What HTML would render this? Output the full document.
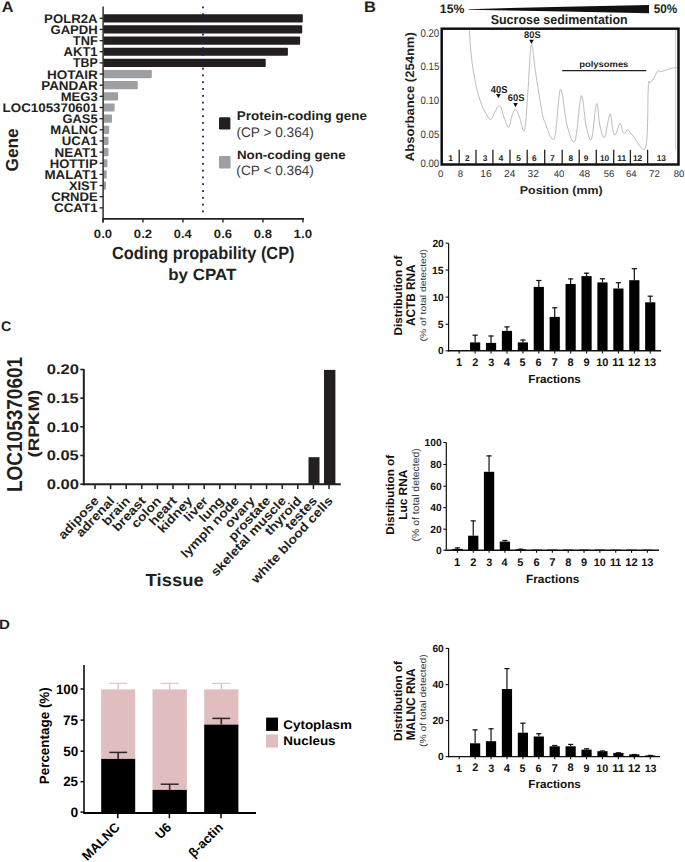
<!DOCTYPE html>
<html><head><meta charset="utf-8"><style>
html,body{margin:0;padding:0;background:#fff;}
svg{display:block;font-family:"Liberation Sans",sans-serif;text-rendering:geometricPrecision;}
</style></head><body>
<svg width="685" height="862" viewBox="0 0 685 862">
<rect width="685" height="862" fill="#fff"/>
<text id="t0" x="1.75" y="11.96" font-size="15.31" font-weight="bold" fill="#231f20" textLength="11.76" lengthAdjust="spacingAndGlyphs">A</text>
<text id="t1" x="44.14" y="22.62" font-size="12.54" font-weight="bold" fill="#231f20" textLength="53.50" lengthAdjust="spacingAndGlyphs">POLR2A</text>
<line x1="99.60" y1="18.30" x2="103.00" y2="18.30" stroke="#231f20" stroke-width="1.3"/>
<rect x="103.50" y="14.20" width="199.30" height="8.20" fill="#231f20" rx="0.8"/>
<text id="t2" x="50.48" y="33.72" font-size="12.45" font-weight="bold" fill="#231f20" textLength="47.28" lengthAdjust="spacingAndGlyphs">GAPDH</text>
<line x1="99.60" y1="29.45" x2="103.00" y2="29.45" stroke="#231f20" stroke-width="1.3"/>
<rect x="103.50" y="25.35" width="198.70" height="8.20" fill="#231f20" rx="0.8"/>
<text id="t3" x="72.87" y="45.05" font-size="12.90" font-weight="bold" fill="#231f20" textLength="24.86" lengthAdjust="spacingAndGlyphs">TNF</text>
<line x1="99.60" y1="40.60" x2="103.00" y2="40.60" stroke="#231f20" stroke-width="1.3"/>
<rect x="103.50" y="36.50" width="196.60" height="8.20" fill="#231f20" rx="0.8"/>
<text id="t4" x="63.57" y="56.20" font-size="12.90" font-weight="bold" fill="#231f20" textLength="34.07" lengthAdjust="spacingAndGlyphs">AKT1</text>
<line x1="99.60" y1="51.75" x2="103.00" y2="51.75" stroke="#231f20" stroke-width="1.3"/>
<rect x="103.50" y="47.65" width="184.40" height="8.20" fill="#231f20" rx="0.8"/>
<text id="t5" x="72.98" y="67.35" font-size="12.90" font-weight="bold" fill="#231f20" textLength="24.69" lengthAdjust="spacingAndGlyphs">TBP</text>
<line x1="99.60" y1="62.90" x2="103.00" y2="62.90" stroke="#231f20" stroke-width="1.3"/>
<rect x="103.50" y="58.80" width="162.20" height="8.20" fill="#231f20" rx="0.8"/>
<text id="t6" x="46.92" y="78.91" font-size="12.45" font-weight="bold" fill="#231f20" textLength="50.84" lengthAdjust="spacingAndGlyphs">HOTAIR</text>
<line x1="99.60" y1="74.05" x2="103.00" y2="74.05" stroke="#231f20" stroke-width="1.3"/>
<rect x="103.50" y="69.95" width="48.30" height="8.20" fill="#9d9fa2" rx="0.8"/>
<text id="t7" x="41.23" y="89.65" font-size="12.90" font-weight="bold" fill="#231f20" textLength="56.39" lengthAdjust="spacingAndGlyphs">PANDAR</text>
<line x1="99.60" y1="85.20" x2="103.00" y2="85.20" stroke="#231f20" stroke-width="1.3"/>
<rect x="103.50" y="81.10" width="34.20" height="8.20" fill="#9d9fa2" rx="0.8"/>
<text id="t8" x="60.65" y="100.67" font-size="12.54" font-weight="bold" fill="#231f20" textLength="37.10" lengthAdjust="spacingAndGlyphs">MEG3</text>
<line x1="99.60" y1="96.35" x2="103.00" y2="96.35" stroke="#231f20" stroke-width="1.3"/>
<rect x="103.50" y="92.25" width="14.50" height="8.20" fill="#9d9fa2" rx="0.8"/>
<text id="t9" x="2.63" y="111.82" font-size="12.54" font-weight="bold" fill="#231f20" textLength="95.02" lengthAdjust="spacingAndGlyphs">LOC105370601</text>
<line x1="99.60" y1="107.50" x2="103.00" y2="107.50" stroke="#231f20" stroke-width="1.3"/>
<rect x="103.50" y="103.40" width="11.10" height="8.20" fill="#9d9fa2" rx="0.8"/>
<text id="t10" x="62.48" y="122.97" font-size="12.54" font-weight="bold" fill="#231f20" textLength="35.18" lengthAdjust="spacingAndGlyphs">GAS5</text>
<line x1="99.60" y1="118.65" x2="103.00" y2="118.65" stroke="#231f20" stroke-width="1.3"/>
<rect x="103.50" y="114.55" width="8.50" height="8.20" fill="#9d9fa2" rx="0.8"/>
<text id="t11" x="50.25" y="134.12" font-size="12.54" font-weight="bold" fill="#231f20" textLength="47.39" lengthAdjust="spacingAndGlyphs">MALNC</text>
<line x1="99.60" y1="129.80" x2="103.00" y2="129.80" stroke="#231f20" stroke-width="1.3"/>
<rect x="103.50" y="125.70" width="5.70" height="8.20" fill="#9d9fa2" rx="0.8"/>
<text id="t12" x="61.81" y="145.27" font-size="12.54" font-weight="bold" fill="#231f20" textLength="35.86" lengthAdjust="spacingAndGlyphs">UCA1</text>
<line x1="99.60" y1="140.95" x2="103.00" y2="140.95" stroke="#231f20" stroke-width="1.3"/>
<rect x="103.50" y="136.85" width="5.00" height="8.20" fill="#9d9fa2" rx="0.8"/>
<text id="t13" x="54.53" y="156.55" font-size="12.90" font-weight="bold" fill="#231f20" textLength="43.10" lengthAdjust="spacingAndGlyphs">NEAT1</text>
<line x1="99.60" y1="152.10" x2="103.00" y2="152.10" stroke="#231f20" stroke-width="1.3"/>
<rect x="103.50" y="148.00" width="5.00" height="8.20" fill="#9d9fa2" rx="0.8"/>
<text id="t14" x="49.75" y="167.57" font-size="12.54" font-weight="bold" fill="#231f20" textLength="47.96" lengthAdjust="spacingAndGlyphs">HOTTIP</text>
<line x1="99.60" y1="163.25" x2="103.00" y2="163.25" stroke="#231f20" stroke-width="1.3"/>
<rect x="103.50" y="159.15" width="3.90" height="8.20" fill="#9d9fa2" rx="0.8"/>
<text id="t15" x="44.43" y="178.85" font-size="12.90" font-weight="bold" fill="#231f20" textLength="53.22" lengthAdjust="spacingAndGlyphs">MALAT1</text>
<line x1="99.60" y1="174.40" x2="103.00" y2="174.40" stroke="#231f20" stroke-width="1.3"/>
<rect x="103.50" y="170.30" width="3.20" height="8.20" fill="#9d9fa2" rx="0.8"/>
<text id="t16" x="68.97" y="189.87" font-size="12.54" font-weight="bold" fill="#231f20" textLength="28.49" lengthAdjust="spacingAndGlyphs">XIST</text>
<line x1="99.60" y1="185.55" x2="103.00" y2="185.55" stroke="#231f20" stroke-width="1.3"/>
<rect x="103.50" y="181.45" width="2.50" height="8.20" fill="#9d9fa2" rx="0.8"/>
<text id="t17" x="51.18" y="201.02" font-size="12.54" font-weight="bold" fill="#231f20" textLength="46.59" lengthAdjust="spacingAndGlyphs">CRNDE</text>
<line x1="99.60" y1="196.70" x2="103.00" y2="196.70" stroke="#231f20" stroke-width="1.3"/>
<text id="t18" x="54.07" y="212.17" font-size="12.54" font-weight="bold" fill="#231f20" textLength="43.56" lengthAdjust="spacingAndGlyphs">CCAT1</text>
<line x1="99.60" y1="207.85" x2="103.00" y2="207.85" stroke="#231f20" stroke-width="1.3"/>
<rect x="202.10" y="6.50" width="1.80" height="1.80" fill="#1b1b6b"/>
<rect x="202.10" y="13.30" width="1.80" height="1.80" fill="#1b1b6b"/>
<rect x="202.10" y="20.10" width="1.80" height="1.80" fill="#1b1b6b"/>
<rect x="202.10" y="26.90" width="1.80" height="1.80" fill="#1b1b6b"/>
<rect x="202.10" y="33.70" width="1.80" height="1.80" fill="#1b1b6b"/>
<rect x="202.10" y="40.50" width="1.80" height="1.80" fill="#1b1b6b"/>
<rect x="202.10" y="47.30" width="1.80" height="1.80" fill="#1b1b6b"/>
<rect x="202.10" y="54.10" width="1.80" height="1.80" fill="#1b1b6b"/>
<rect x="202.10" y="60.90" width="1.80" height="1.80" fill="#1b1b6b"/>
<rect x="202.10" y="67.70" width="1.80" height="1.80" fill="#1b1b6b"/>
<rect x="202.10" y="74.50" width="1.80" height="1.80" fill="#1b1b6b"/>
<rect x="202.10" y="81.30" width="1.80" height="1.80" fill="#1b1b6b"/>
<rect x="202.10" y="88.10" width="1.80" height="1.80" fill="#1b1b6b"/>
<rect x="202.10" y="94.90" width="1.80" height="1.80" fill="#1b1b6b"/>
<rect x="202.10" y="101.70" width="1.80" height="1.80" fill="#1b1b6b"/>
<rect x="202.10" y="108.50" width="1.80" height="1.80" fill="#1b1b6b"/>
<rect x="202.10" y="115.30" width="1.80" height="1.80" fill="#1b1b6b"/>
<rect x="202.10" y="122.10" width="1.80" height="1.80" fill="#1b1b6b"/>
<rect x="202.10" y="128.90" width="1.80" height="1.80" fill="#1b1b6b"/>
<rect x="202.10" y="135.70" width="1.80" height="1.80" fill="#1b1b6b"/>
<rect x="202.10" y="142.50" width="1.80" height="1.80" fill="#1b1b6b"/>
<rect x="202.10" y="149.30" width="1.80" height="1.80" fill="#1b1b6b"/>
<rect x="202.10" y="156.10" width="1.80" height="1.80" fill="#1b1b6b"/>
<rect x="202.10" y="162.90" width="1.80" height="1.80" fill="#1b1b6b"/>
<rect x="202.10" y="169.70" width="1.80" height="1.80" fill="#1b1b6b"/>
<rect x="202.10" y="176.50" width="1.80" height="1.80" fill="#1b1b6b"/>
<rect x="202.10" y="183.30" width="1.80" height="1.80" fill="#1b1b6b"/>
<rect x="202.10" y="190.10" width="1.80" height="1.80" fill="#1b1b6b"/>
<rect x="202.10" y="196.90" width="1.80" height="1.80" fill="#1b1b6b"/>
<rect x="202.10" y="203.70" width="1.80" height="1.80" fill="#1b1b6b"/>
<rect x="202.10" y="210.50" width="1.80" height="1.80" fill="#1b1b6b"/>
<line x1="103.10" y1="6.50" x2="103.10" y2="222.60" stroke="#231f20" stroke-width="1.4"/>
<line x1="102.40" y1="218.90" x2="304.00" y2="218.90" stroke="#231f20" stroke-width="1.8"/>
<line x1="103.00" y1="218.90" x2="103.00" y2="222.60" stroke="#231f20" stroke-width="1.3"/>
<text id="t19" x="93.87" y="237.68" font-size="12.11" font-weight="bold" fill="#231f20" textLength="18.25" lengthAdjust="spacingAndGlyphs">0.0</text>
<line x1="143.00" y1="218.90" x2="143.00" y2="222.60" stroke="#231f20" stroke-width="1.3"/>
<text id="t20" x="133.87" y="237.68" font-size="12.11" font-weight="bold" fill="#231f20" textLength="18.25" lengthAdjust="spacingAndGlyphs">0.2</text>
<line x1="183.00" y1="218.90" x2="183.00" y2="222.60" stroke="#231f20" stroke-width="1.3"/>
<text id="t21" x="173.89" y="237.68" font-size="12.11" font-weight="bold" fill="#231f20" textLength="17.78" lengthAdjust="spacingAndGlyphs">0.4</text>
<line x1="223.00" y1="218.90" x2="223.00" y2="222.60" stroke="#231f20" stroke-width="1.3"/>
<text id="t22" x="213.88" y="237.68" font-size="12.11" font-weight="bold" fill="#231f20" textLength="18.18" lengthAdjust="spacingAndGlyphs">0.6</text>
<line x1="263.00" y1="218.90" x2="263.00" y2="222.60" stroke="#231f20" stroke-width="1.3"/>
<text id="t23" x="253.88" y="237.68" font-size="12.11" font-weight="bold" fill="#231f20" textLength="18.11" lengthAdjust="spacingAndGlyphs">0.8</text>
<line x1="303.00" y1="218.90" x2="303.00" y2="222.60" stroke="#231f20" stroke-width="1.3"/>
<text id="t24" x="293.60" y="237.68" font-size="12.11" font-weight="bold" fill="#231f20" textLength="18.54" lengthAdjust="spacingAndGlyphs">1.0</text>
<text id="t25" x="111.95" y="259.02" font-size="17.67" font-weight="bold" fill="#231f20" textLength="182.56" lengthAdjust="spacingAndGlyphs">Coding propability (CP)</text>
<text id="t26" x="168.30" y="279.96" font-size="16.21" font-weight="bold" fill="#231f20" textLength="67.93" lengthAdjust="spacingAndGlyphs">by CPAT</text>
<text id="t27" transform="translate(17.83,171.39) rotate(-90)" font-size="17.46" font-weight="bold" fill="#231f20" textLength="43.11" lengthAdjust="spacingAndGlyphs">Gene</text>
<rect x="219.00" y="117.20" width="11.40" height="12.20" fill="#231f20" rx="1.2"/>
<rect x="219.00" y="155.90" width="11.60" height="12.50" fill="#9d9fa2" rx="1.2"/>
<text id="t28" x="236.72" y="119.98" font-size="12.66" font-weight="bold" fill="#231f20" textLength="130.18" lengthAdjust="spacingAndGlyphs">Protein-coding gene</text>
<text id="t29" x="236.38" y="136.60" font-size="13.80" font-weight="normal" fill="#3a3a3a" textLength="77.50" lengthAdjust="spacingAndGlyphs">(CP &gt; 0.364)</text>
<text id="t30" x="236.93" y="158.76" font-size="12.09" font-weight="bold" fill="#231f20" textLength="108.75" lengthAdjust="spacingAndGlyphs">Non-coding gene</text>
<text id="t31" x="236.38" y="175.15" font-size="13.58" font-weight="normal" fill="#3a3a3a" textLength="77.50" lengthAdjust="spacingAndGlyphs">(CP &lt; 0.364)</text>
<text id="t32" x="364.02" y="11.70" font-size="15.22" font-weight="bold" fill="#231f20" textLength="11.96" lengthAdjust="spacingAndGlyphs">B</text>
<text id="t33" x="439.85" y="13.20" font-size="12.37" font-weight="bold" fill="#231f20" textLength="24.54" lengthAdjust="spacingAndGlyphs">15%</text>
<text id="t34" x="653.65" y="12.97" font-size="12.54" font-weight="bold" fill="#231f20" textLength="23.46" lengthAdjust="spacingAndGlyphs">50%</text>
<polygon points="468.6,9.2 510,7.9 565,6.7 649,5.1 649,13.2 565,11.6 510,10.6 468.6,9.8" fill="#111"/>
<text id="t35" x="490.73" y="23.77" font-size="13.06" font-weight="bold" fill="#231f20" textLength="136.96" lengthAdjust="spacingAndGlyphs">Sucrose sedimentation</text>
<path d="M469.3,29.9 C469.58,33.73 470.25,45.58 471.00,52.90 C471.75,60.22 472.75,67.53 473.80,73.80 C474.85,80.07 476.02,85.40 477.30,90.50 C478.58,95.60 480.12,100.68 481.50,104.40 C482.88,108.12 484.10,110.28 485.60,112.80 C487.10,115.32 488.95,119.63 490.50,119.50 C492.05,119.37 493.72,114.08 494.90,112.00 C496.08,109.92 496.87,107.97 497.60,107.00 C498.33,106.03 498.73,106.13 499.30,106.20 C499.87,106.27 500.28,105.77 501.00,107.40 C501.72,109.03 502.37,112.67 503.60,116.00 C504.83,119.33 507.02,127.40 508.40,127.40 C509.78,127.40 510.93,118.77 511.90,116.00 C512.87,113.23 513.60,111.78 514.20,110.80 C514.80,109.82 515.03,110.03 515.50,110.10 C515.97,110.17 516.28,109.88 517.00,111.20 C517.72,112.52 518.53,114.85 519.80,118.00 C521.07,121.15 523.23,134.77 524.60,130.10 C525.97,125.43 526.88,104.27 528.00,90.00 C529.12,75.73 530.00,47.20 531.30,44.50 C532.60,41.80 534.12,63.12 535.80,73.80 C537.48,84.48 539.87,100.48 541.40,108.60 C542.93,116.72 542.85,117.53 545.00,122.50 C547.15,127.47 551.72,143.88 554.30,138.40 C556.88,132.92 558.38,91.83 560.50,89.60 C562.62,87.37 564.60,116.43 567.00,125.00 C569.40,133.57 572.52,145.85 574.90,141.00 C577.28,136.15 579.45,98.57 581.30,95.90 C583.15,93.23 584.32,117.77 586.00,125.00 C587.68,132.23 589.65,142.85 591.40,139.30 C593.15,135.75 595.07,105.92 596.50,103.70 C597.93,101.48 598.65,120.42 600.00,126.00 C601.35,131.58 602.95,139.22 604.60,137.20 C606.25,135.18 608.58,115.43 609.90,113.90 C611.22,112.37 611.63,124.47 612.50,128.00 C613.37,131.53 613.85,135.87 615.10,135.10 C616.35,134.33 618.77,124.08 620.00,123.40 C621.23,122.72 621.72,129.33 622.50,131.00 C623.28,132.67 623.82,133.60 624.70,133.40 C625.58,133.20 626.40,129.35 627.80,129.80 C629.20,130.25 630.12,133.23 633.10,136.10 C636.08,138.97 643.17,155.18 645.70,147.00 C648.23,138.82 647.63,97.67 648.30,87.00 C648.97,76.33 648.92,84.22 649.70,83.00 C650.48,81.78 651.67,81.70 653.00,79.70 C654.33,77.70 656.48,72.33 657.70,71.00 C658.92,69.67 658.97,71.82 660.30,71.70 C661.63,71.58 663.92,70.87 665.70,70.30 C667.48,69.73 669.12,68.73 671.00,68.30 C672.88,67.87 676.00,67.80 677.00,67.70" fill="none" stroke="#b0b0b0" stroke-width="0.85"/>
<line x1="675.70" y1="30.00" x2="675.70" y2="149.70" stroke="#c8c8c8" stroke-width="0.9"/>
<rect x="441.7" y="28.7" width="236.8" height="135.8" fill="none" stroke="#111" stroke-width="2.5"/>
<text id="t36" x="420.41" y="36.65" font-size="11.25" font-weight="normal" fill="#333" textLength="18.73" lengthAdjust="spacingAndGlyphs">0.20</text>
<text id="t37" x="420.51" y="69.99" font-size="10.70" font-weight="normal" fill="#333" textLength="18.78" lengthAdjust="spacingAndGlyphs">0.15</text>
<text id="t38" x="420.51" y="104.39" font-size="10.70" font-weight="normal" fill="#333" textLength="18.73" lengthAdjust="spacingAndGlyphs">0.10</text>
<text id="t39" x="420.51" y="138.39" font-size="10.70" font-weight="normal" fill="#333" textLength="18.78" lengthAdjust="spacingAndGlyphs">0.05</text>
<text id="t40" x="420.51" y="167.09" font-size="10.70" font-weight="normal" fill="#333" textLength="18.73" lengthAdjust="spacingAndGlyphs">0.00</text>
<text id="t41" transform="translate(413.72,161.13) rotate(-90)" font-size="12.30" font-weight="bold" fill="#231f20" textLength="128.94" lengthAdjust="spacingAndGlyphs">Absorbance (254nm)</text>
<text id="t42" x="524.12" y="38.10" font-size="9.58" font-weight="bold" fill="#231f20" textLength="16.55" lengthAdjust="spacingAndGlyphs">80S</text>
<text id="t43" x="490.86" y="92.50" font-size="10.14" font-weight="bold" fill="#231f20" textLength="16.71" lengthAdjust="spacingAndGlyphs">40S</text>
<text id="t44" x="507.77" y="101.10" font-size="9.86" font-weight="bold" fill="#231f20" textLength="16.70" lengthAdjust="spacingAndGlyphs">60S</text>
<polygon points="529.2,39.8 533.8,39.8 531.5,44.099999999999994" fill="#111"/>
<polygon points="496.09999999999997,93.9 500.7,93.9 498.4,98.2" fill="#111"/>
<polygon points="513.2,103.0 517.8,103.0 515.5,107.3" fill="#111"/>
<text id="t45" x="579.19" y="66.83" font-size="8.45" font-weight="bold" fill="#231f20" textLength="49.18" lengthAdjust="spacingAndGlyphs">polysomes</text>
<line x1="562.20" y1="70.60" x2="646.20" y2="70.60" stroke="#222" stroke-width="1.3"/>
<line x1="459.20" y1="149.80" x2="459.20" y2="164.00" stroke="#222" stroke-width="1.3"/>
<line x1="476.00" y1="149.80" x2="476.00" y2="164.00" stroke="#222" stroke-width="1.3"/>
<line x1="492.90" y1="149.80" x2="492.90" y2="164.00" stroke="#222" stroke-width="1.3"/>
<line x1="510.00" y1="149.80" x2="510.00" y2="164.00" stroke="#222" stroke-width="1.3"/>
<line x1="527.20" y1="149.80" x2="527.20" y2="164.00" stroke="#222" stroke-width="1.3"/>
<line x1="544.70" y1="149.80" x2="544.70" y2="164.00" stroke="#222" stroke-width="1.3"/>
<line x1="562.20" y1="149.80" x2="562.20" y2="164.00" stroke="#222" stroke-width="1.3"/>
<line x1="579.20" y1="149.80" x2="579.20" y2="164.00" stroke="#222" stroke-width="1.3"/>
<line x1="596.30" y1="149.80" x2="596.30" y2="164.00" stroke="#222" stroke-width="1.3"/>
<line x1="613.70" y1="149.80" x2="613.70" y2="164.00" stroke="#222" stroke-width="1.3"/>
<line x1="630.40" y1="149.80" x2="630.40" y2="164.00" stroke="#222" stroke-width="1.3"/>
<line x1="647.60" y1="149.80" x2="647.60" y2="164.00" stroke="#222" stroke-width="1.3"/>
<text id="t46" x="448.31" y="160.64" font-size="8.47" font-weight="bold" fill="#231f20">1</text>
<text id="t47" x="465.01" y="160.64" font-size="8.34" font-weight="bold" fill="#231f20">2</text>
<text id="t48" x="482.74" y="160.72" font-size="8.31" font-weight="bold" fill="#231f20">3</text>
<text id="t49" x="498.38" y="160.80" font-size="8.55" font-weight="bold" fill="#231f20">4</text>
<text id="t50" x="516.24" y="160.72" font-size="8.43" font-weight="bold" fill="#231f20">5</text>
<text id="t51" x="532.09" y="160.72" font-size="8.31" font-weight="bold" fill="#231f20">6</text>
<text id="t52" x="550.03" y="160.80" font-size="8.55" font-weight="bold" fill="#231f20">7</text>
<text id="t53" x="568.39" y="160.72" font-size="8.31" font-weight="bold" fill="#231f20">8</text>
<text id="t54" x="583.69" y="160.72" font-size="8.31" font-weight="bold" fill="#231f20">9</text>
<text id="t55" x="599.90" y="160.72" font-size="8.31" font-weight="bold" fill="#231f20">10</text>
<text id="t56" x="617.34" y="160.80" font-size="8.55" font-weight="bold" fill="#231f20">11</text>
<text id="t57" x="632.99" y="160.64" font-size="8.34" font-weight="bold" fill="#231f20">12</text>
<text id="t58" x="656.68" y="160.72" font-size="8.31" font-weight="bold" fill="#231f20">13</text>
<text id="t59" x="438.12" y="176.90" font-size="9.58" font-weight="normal" fill="#333">0</text>
<text id="t60" x="457.72" y="176.90" font-size="9.58" font-weight="normal" fill="#333">8</text>
<text id="t61" x="480.37" y="176.66" font-size="10.17" font-weight="normal" fill="#333">16</text>
<text id="t62" x="504.07" y="176.85" font-size="10.13" font-weight="normal" fill="#333">24</text>
<text id="t63" x="527.59" y="176.66" font-size="10.17" font-weight="normal" fill="#333">32</text>
<text id="t64" x="553.66" y="176.90" font-size="9.58" font-weight="normal" fill="#333">40</text>
<text id="t65" x="578.96" y="176.66" font-size="10.17" font-weight="normal" fill="#333">48</text>
<text id="t66" x="603.78" y="176.90" font-size="9.58" font-weight="normal" fill="#333">56</text>
<text id="t67" x="625.99" y="176.90" font-size="9.58" font-weight="normal" fill="#333">64</text>
<text id="t68" x="649.11" y="177.00" font-size="9.71" font-weight="normal" fill="#333">72</text>
<text id="t69" x="673.74" y="176.90" font-size="9.58" font-weight="normal" fill="#333">80</text>
<text id="t70" x="519.79" y="193.75" font-size="11.25" font-weight="bold" fill="#231f20" textLength="82.83" lengthAdjust="spacingAndGlyphs">Position (mm)</text>
<line x1="448.60" y1="243.20" x2="448.60" y2="351.40" stroke="#111" stroke-width="1.2"/>
<line x1="448.00" y1="350.80" x2="661.00" y2="350.80" stroke="#111" stroke-width="1.4"/>
<line x1="445.60" y1="243.20" x2="448.60" y2="243.20" stroke="#111" stroke-width="1.1"/>
<text id="t71" x="432.40" y="246.75" font-size="10.28" font-weight="bold" fill="#111">20</text>
<line x1="445.60" y1="270.10" x2="448.60" y2="270.10" stroke="#111" stroke-width="1.1"/>
<text id="t72" x="432.09" y="273.65" font-size="10.43" font-weight="bold" fill="#111">15</text>
<line x1="445.60" y1="297.10" x2="448.60" y2="297.10" stroke="#111" stroke-width="1.1"/>
<text id="t73" x="432.40" y="300.65" font-size="10.28" font-weight="bold" fill="#111">10</text>
<line x1="445.60" y1="324.30" x2="448.60" y2="324.30" stroke="#111" stroke-width="1.1"/>
<text id="t74" x="437.87" y="327.85" font-size="10.43" font-weight="bold" fill="#111">5</text>
<line x1="445.60" y1="350.80" x2="448.60" y2="350.80" stroke="#111" stroke-width="1.1"/>
<text id="t75" x="438.10" y="354.35" font-size="10.28" font-weight="bold" fill="#111">0</text>
<line x1="459.20" y1="350.80" x2="459.20" y2="353.40" stroke="#111" stroke-width="1.1"/>
<text id="t76" x="456.11" y="365.88" font-size="11.13" font-weight="bold" fill="#111">1</text>
<line x1="475.12" y1="350.80" x2="475.12" y2="353.40" stroke="#111" stroke-width="1.1"/>
<text id="t77" x="472.22" y="365.88" font-size="10.98" font-weight="bold" fill="#111">2</text>
<rect x="470.02" y="342.40" width="10.20" height="8.40" fill="#000"/>
<line x1="475.12" y1="334.70" x2="475.12" y2="342.40" stroke="#111" stroke-width="1.2"/>
<line x1="472.52" y1="335.20" x2="477.72" y2="335.20" stroke="#111" stroke-width="1.2"/>
<line x1="491.04" y1="350.80" x2="491.04" y2="353.40" stroke="#111" stroke-width="1.1"/>
<text id="t78" x="488.13" y="365.77" font-size="10.82" font-weight="bold" fill="#111">3</text>
<rect x="485.94" y="342.90" width="10.20" height="7.90" fill="#000"/>
<line x1="491.04" y1="335.50" x2="491.04" y2="342.90" stroke="#111" stroke-width="1.2"/>
<line x1="488.44" y1="336.00" x2="493.64" y2="336.00" stroke="#111" stroke-width="1.2"/>
<line x1="506.96" y1="350.80" x2="506.96" y2="353.40" stroke="#111" stroke-width="1.1"/>
<text id="t79" x="503.77" y="365.90" font-size="11.30" font-weight="bold" fill="#111">4</text>
<rect x="501.86" y="330.90" width="10.20" height="19.90" fill="#000"/>
<line x1="506.96" y1="326.40" x2="506.96" y2="330.90" stroke="#111" stroke-width="1.2"/>
<line x1="504.36" y1="326.90" x2="509.56" y2="326.90" stroke="#111" stroke-width="1.2"/>
<line x1="522.88" y1="350.80" x2="522.88" y2="353.40" stroke="#111" stroke-width="1.1"/>
<text id="t80" x="519.62" y="365.76" font-size="10.81" font-weight="bold" fill="#111">5</text>
<rect x="517.78" y="342.40" width="10.20" height="8.40" fill="#000"/>
<line x1="522.88" y1="339.50" x2="522.88" y2="342.40" stroke="#111" stroke-width="1.2"/>
<line x1="520.28" y1="340.00" x2="525.48" y2="340.00" stroke="#111" stroke-width="1.2"/>
<line x1="538.80" y1="350.80" x2="538.80" y2="353.40" stroke="#111" stroke-width="1.1"/>
<text id="t81" x="535.60" y="365.77" font-size="10.82" font-weight="bold" fill="#111">6</text>
<rect x="533.70" y="286.90" width="10.20" height="63.90" fill="#000"/>
<line x1="538.80" y1="280.00" x2="538.80" y2="286.90" stroke="#111" stroke-width="1.2"/>
<line x1="536.20" y1="280.50" x2="541.40" y2="280.50" stroke="#111" stroke-width="1.2"/>
<line x1="554.72" y1="350.80" x2="554.72" y2="353.40" stroke="#111" stroke-width="1.1"/>
<text id="t82" x="551.58" y="365.90" font-size="11.30" font-weight="bold" fill="#111">7</text>
<rect x="549.62" y="316.90" width="10.20" height="33.90" fill="#000"/>
<line x1="554.72" y1="307.30" x2="554.72" y2="316.90" stroke="#111" stroke-width="1.2"/>
<line x1="552.12" y1="307.80" x2="557.32" y2="307.80" stroke="#111" stroke-width="1.2"/>
<line x1="570.64" y1="350.80" x2="570.64" y2="353.40" stroke="#111" stroke-width="1.1"/>
<text id="t83" x="567.59" y="365.79" font-size="10.99" font-weight="bold" fill="#111">8</text>
<rect x="565.54" y="284.00" width="10.20" height="66.80" fill="#000"/>
<line x1="570.64" y1="278.40" x2="570.64" y2="284.00" stroke="#111" stroke-width="1.2"/>
<line x1="568.04" y1="278.90" x2="573.24" y2="278.90" stroke="#111" stroke-width="1.2"/>
<line x1="586.56" y1="350.80" x2="586.56" y2="353.40" stroke="#111" stroke-width="1.1"/>
<text id="t84" x="583.51" y="365.79" font-size="10.99" font-weight="bold" fill="#111">9</text>
<rect x="581.46" y="276.10" width="10.20" height="74.70" fill="#000"/>
<line x1="586.56" y1="272.70" x2="586.56" y2="276.10" stroke="#111" stroke-width="1.2"/>
<line x1="583.96" y1="273.20" x2="589.16" y2="273.20" stroke="#111" stroke-width="1.2"/>
<line x1="602.48" y1="350.80" x2="602.48" y2="353.40" stroke="#111" stroke-width="1.1"/>
<text id="t85" x="596.27" y="365.79" font-size="10.99" font-weight="bold" fill="#111">10</text>
<rect x="597.38" y="282.40" width="10.20" height="68.40" fill="#000"/>
<line x1="602.48" y1="278.30" x2="602.48" y2="282.40" stroke="#111" stroke-width="1.2"/>
<line x1="599.88" y1="278.80" x2="605.08" y2="278.80" stroke="#111" stroke-width="1.2"/>
<line x1="618.40" y1="350.80" x2="618.40" y2="353.40" stroke="#111" stroke-width="1.1"/>
<text id="t86" x="612.24" y="365.90" font-size="11.30" font-weight="bold" fill="#111">11</text>
<rect x="613.30" y="288.50" width="10.20" height="62.30" fill="#000"/>
<line x1="618.40" y1="282.20" x2="618.40" y2="288.50" stroke="#111" stroke-width="1.2"/>
<line x1="615.80" y1="282.70" x2="621.00" y2="282.70" stroke="#111" stroke-width="1.2"/>
<line x1="634.32" y1="350.80" x2="634.32" y2="353.40" stroke="#111" stroke-width="1.1"/>
<text id="t87" x="628.02" y="365.90" font-size="11.14" font-weight="bold" fill="#111">12</text>
<rect x="629.22" y="280.20" width="10.20" height="70.60" fill="#000"/>
<line x1="634.32" y1="268.20" x2="634.32" y2="280.20" stroke="#111" stroke-width="1.2"/>
<line x1="631.72" y1="268.70" x2="636.92" y2="268.70" stroke="#111" stroke-width="1.2"/>
<line x1="650.24" y1="350.80" x2="650.24" y2="353.40" stroke="#111" stroke-width="1.1"/>
<text id="t88" x="644.01" y="365.79" font-size="10.99" font-weight="bold" fill="#111">13</text>
<rect x="645.14" y="302.30" width="10.20" height="48.50" fill="#000"/>
<line x1="650.24" y1="295.70" x2="650.24" y2="302.30" stroke="#111" stroke-width="1.2"/>
<line x1="647.64" y1="296.20" x2="652.84" y2="296.20" stroke="#111" stroke-width="1.2"/>
<text id="t89" x="528.24" y="382.88" font-size="11.56" font-weight="bold" fill="#111" textLength="52.64" lengthAdjust="spacingAndGlyphs">Fractions</text>
<text id="t90" transform="translate(401.59,335.56) rotate(-90)" font-size="11.43" font-weight="bold" fill="#111" textLength="79.93" lengthAdjust="spacingAndGlyphs">Distribution of</text>
<text id="t91" transform="translate(415.27,325.89) rotate(-90)" font-size="12.68" font-weight="bold" fill="#111" textLength="61.25" lengthAdjust="spacingAndGlyphs">ACTB RNA</text>
<text id="t92" transform="translate(425.83,341.42) rotate(-90)" font-size="8.45" font-weight="normal" fill="#333" textLength="92.48" lengthAdjust="spacingAndGlyphs">(% of total detected)</text>
<line x1="446.30" y1="442.50" x2="446.30" y2="550.80" stroke="#111" stroke-width="1.2"/>
<line x1="445.70" y1="550.20" x2="659.00" y2="550.20" stroke="#111" stroke-width="1.4"/>
<line x1="443.30" y1="442.50" x2="446.30" y2="442.50" stroke="#111" stroke-width="1.1"/>
<text id="t93" x="424.49" y="446.05" font-size="10.28" font-weight="bold" fill="#111">100</text>
<line x1="443.30" y1="464.50" x2="446.30" y2="464.50" stroke="#111" stroke-width="1.1"/>
<text id="t94" x="430.20" y="468.05" font-size="10.28" font-weight="bold" fill="#111">80</text>
<line x1="443.30" y1="486.20" x2="446.30" y2="486.20" stroke="#111" stroke-width="1.1"/>
<text id="t95" x="430.20" y="489.75" font-size="10.28" font-weight="bold" fill="#111">60</text>
<line x1="443.30" y1="507.60" x2="446.30" y2="507.60" stroke="#111" stroke-width="1.1"/>
<text id="t96" x="430.20" y="511.15" font-size="10.28" font-weight="bold" fill="#111">40</text>
<line x1="443.30" y1="529.20" x2="446.30" y2="529.20" stroke="#111" stroke-width="1.1"/>
<text id="t97" x="430.20" y="532.75" font-size="10.28" font-weight="bold" fill="#111">20</text>
<line x1="443.30" y1="550.20" x2="446.30" y2="550.20" stroke="#111" stroke-width="1.1"/>
<text id="t98" x="435.90" y="553.75" font-size="10.28" font-weight="bold" fill="#111">0</text>
<line x1="457.40" y1="550.20" x2="457.40" y2="552.80" stroke="#111" stroke-width="1.1"/>
<text id="t99" x="454.07" y="566.20" font-size="11.30" font-weight="bold" fill="#111">1</text>
<rect x="452.25" y="548.90" width="10.30" height="1.30" fill="#000"/>
<line x1="457.40" y1="547.40" x2="457.40" y2="548.90" stroke="#111" stroke-width="1.2"/>
<line x1="454.80" y1="547.90" x2="460.00" y2="547.90" stroke="#111" stroke-width="1.2"/>
<line x1="473.23" y1="550.20" x2="473.23" y2="552.80" stroke="#111" stroke-width="1.1"/>
<text id="t100" x="470.17" y="566.20" font-size="11.14" font-weight="bold" fill="#111">2</text>
<rect x="468.08" y="535.70" width="10.30" height="14.50" fill="#000"/>
<line x1="473.23" y1="520.40" x2="473.23" y2="535.70" stroke="#111" stroke-width="1.2"/>
<line x1="470.63" y1="520.90" x2="475.83" y2="520.90" stroke="#111" stroke-width="1.2"/>
<line x1="489.06" y1="550.20" x2="489.06" y2="552.80" stroke="#111" stroke-width="1.1"/>
<text id="t101" x="486.17" y="566.37" font-size="10.82" font-weight="bold" fill="#111">3</text>
<rect x="483.91" y="471.80" width="10.30" height="78.40" fill="#000"/>
<line x1="489.06" y1="455.40" x2="489.06" y2="471.80" stroke="#111" stroke-width="1.2"/>
<line x1="486.46" y1="455.90" x2="491.66" y2="455.90" stroke="#111" stroke-width="1.2"/>
<line x1="504.89" y1="550.20" x2="504.89" y2="552.80" stroke="#111" stroke-width="1.1"/>
<text id="t102" x="501.52" y="566.03" font-size="10.80" font-weight="bold" fill="#111">4</text>
<rect x="499.74" y="541.60" width="10.30" height="8.60" fill="#000"/>
<line x1="504.89" y1="540.00" x2="504.89" y2="541.60" stroke="#111" stroke-width="1.2"/>
<line x1="502.29" y1="540.50" x2="507.49" y2="540.50" stroke="#111" stroke-width="1.2"/>
<line x1="520.72" y1="550.20" x2="520.72" y2="552.80" stroke="#111" stroke-width="1.1"/>
<text id="t103" x="517.37" y="566.37" font-size="10.98" font-weight="bold" fill="#111">5</text>
<rect x="515.57" y="549.30" width="10.30" height="0.90" fill="#000"/>
<line x1="520.72" y1="548.70" x2="520.72" y2="549.30" stroke="#111" stroke-width="1.2"/>
<line x1="518.12" y1="549.20" x2="523.32" y2="549.20" stroke="#111" stroke-width="1.2"/>
<line x1="536.55" y1="550.20" x2="536.55" y2="552.80" stroke="#111" stroke-width="1.1"/>
<text id="t104" x="533.50" y="566.09" font-size="10.99" font-weight="bold" fill="#111">6</text>
<rect x="531.40" y="549.60" width="10.30" height="0.60" fill="#000"/>
<line x1="552.38" y1="550.20" x2="552.38" y2="552.80" stroke="#111" stroke-width="1.1"/>
<text id="t105" x="549.24" y="566.20" font-size="11.30" font-weight="bold" fill="#111">7</text>
<rect x="547.23" y="549.60" width="10.30" height="0.60" fill="#000"/>
<line x1="568.21" y1="550.20" x2="568.21" y2="552.80" stroke="#111" stroke-width="1.1"/>
<text id="t106" x="565.16" y="566.09" font-size="10.99" font-weight="bold" fill="#111">8</text>
<rect x="563.06" y="549.60" width="10.30" height="0.60" fill="#000"/>
<line x1="584.04" y1="550.20" x2="584.04" y2="552.80" stroke="#111" stroke-width="1.1"/>
<text id="t107" x="580.99" y="566.09" font-size="10.99" font-weight="bold" fill="#111">9</text>
<rect x="578.89" y="549.60" width="10.30" height="0.60" fill="#000"/>
<line x1="599.87" y1="550.20" x2="599.87" y2="552.80" stroke="#111" stroke-width="1.1"/>
<text id="t108" x="593.63" y="566.37" font-size="10.82" font-weight="bold" fill="#111">10</text>
<rect x="594.72" y="549.60" width="10.30" height="0.60" fill="#000"/>
<line x1="615.70" y1="550.20" x2="615.70" y2="552.80" stroke="#111" stroke-width="1.1"/>
<text id="t109" x="609.91" y="566.03" font-size="10.80" font-weight="bold" fill="#111">11</text>
<rect x="610.55" y="549.70" width="10.30" height="0.50" fill="#000"/>
<line x1="631.53" y1="550.20" x2="631.53" y2="552.80" stroke="#111" stroke-width="1.1"/>
<text id="t110" x="625.23" y="566.20" font-size="11.14" font-weight="bold" fill="#111">12</text>
<rect x="626.38" y="549.70" width="10.30" height="0.50" fill="#000"/>
<line x1="647.36" y1="550.20" x2="647.36" y2="552.80" stroke="#111" stroke-width="1.1"/>
<text id="t111" x="641.13" y="566.09" font-size="10.99" font-weight="bold" fill="#111">13</text>
<rect x="642.21" y="549.70" width="10.30" height="0.50" fill="#000"/>
<text id="t112" x="526.03" y="582.58" font-size="11.84" font-weight="bold" fill="#111" textLength="53.26" lengthAdjust="spacingAndGlyphs">Fractions</text>
<text id="t113" transform="translate(394.09,534.76) rotate(-90)" font-size="11.43" font-weight="bold" fill="#111" textLength="79.83" lengthAdjust="spacingAndGlyphs">Distribution of</text>
<text id="t114" transform="translate(406.78,519.77) rotate(-90)" font-size="11.86" font-weight="bold" fill="#111" textLength="50.09" lengthAdjust="spacingAndGlyphs">Luc RNA</text>
<text id="t115" transform="translate(419.31,541.42) rotate(-90)" font-size="9.95" font-weight="normal" fill="#333" textLength="93.19" lengthAdjust="spacingAndGlyphs">(% of total detected)</text>
<line x1="448.60" y1="648.00" x2="448.60" y2="757.20" stroke="#111" stroke-width="1.2"/>
<line x1="448.00" y1="756.60" x2="660.00" y2="756.60" stroke="#111" stroke-width="1.4"/>
<line x1="445.60" y1="648.40" x2="448.60" y2="648.40" stroke="#111" stroke-width="1.1"/>
<text id="t116" x="432.40" y="651.95" font-size="10.28" font-weight="bold" fill="#111">60</text>
<line x1="445.60" y1="684.60" x2="448.60" y2="684.60" stroke="#111" stroke-width="1.1"/>
<text id="t117" x="432.40" y="688.15" font-size="10.28" font-weight="bold" fill="#111">40</text>
<line x1="445.60" y1="720.60" x2="448.60" y2="720.60" stroke="#111" stroke-width="1.1"/>
<text id="t118" x="432.40" y="724.15" font-size="10.28" font-weight="bold" fill="#111">20</text>
<line x1="445.60" y1="756.60" x2="448.60" y2="756.60" stroke="#111" stroke-width="1.1"/>
<text id="t119" x="438.10" y="760.15" font-size="10.28" font-weight="bold" fill="#111">0</text>
<line x1="459.20" y1="756.60" x2="459.20" y2="759.20" stroke="#111" stroke-width="1.1"/>
<text id="t120" x="456.11" y="771.64" font-size="10.80" font-weight="bold" fill="#111">1</text>
<line x1="475.12" y1="756.60" x2="475.12" y2="759.20" stroke="#111" stroke-width="1.1"/>
<text id="t121" x="472.22" y="771.29" font-size="10.98" font-weight="bold" fill="#111">2</text>
<rect x="470.02" y="743.30" width="10.20" height="13.30" fill="#000"/>
<line x1="475.12" y1="729.40" x2="475.12" y2="743.30" stroke="#111" stroke-width="1.2"/>
<line x1="472.52" y1="729.90" x2="477.72" y2="729.90" stroke="#111" stroke-width="1.2"/>
<line x1="491.04" y1="756.60" x2="491.04" y2="759.20" stroke="#111" stroke-width="1.1"/>
<text id="t122" x="488.13" y="772.16" font-size="10.82" font-weight="bold" fill="#111">3</text>
<rect x="485.94" y="741.20" width="10.20" height="15.40" fill="#000"/>
<line x1="491.04" y1="728.30" x2="491.04" y2="741.20" stroke="#111" stroke-width="1.2"/>
<line x1="488.44" y1="728.80" x2="493.64" y2="728.80" stroke="#111" stroke-width="1.2"/>
<line x1="506.96" y1="756.60" x2="506.96" y2="759.20" stroke="#111" stroke-width="1.1"/>
<text id="t123" x="503.77" y="771.60" font-size="11.30" font-weight="bold" fill="#111">4</text>
<rect x="501.86" y="689.00" width="10.20" height="67.60" fill="#000"/>
<line x1="506.96" y1="668.10" x2="506.96" y2="689.00" stroke="#111" stroke-width="1.2"/>
<line x1="504.36" y1="668.60" x2="509.56" y2="668.60" stroke="#111" stroke-width="1.2"/>
<line x1="522.88" y1="756.60" x2="522.88" y2="759.20" stroke="#111" stroke-width="1.1"/>
<text id="t124" x="519.62" y="771.84" font-size="10.81" font-weight="bold" fill="#111">5</text>
<rect x="517.78" y="732.70" width="10.20" height="23.90" fill="#000"/>
<line x1="522.88" y1="722.70" x2="522.88" y2="732.70" stroke="#111" stroke-width="1.2"/>
<line x1="520.28" y1="723.20" x2="525.48" y2="723.20" stroke="#111" stroke-width="1.2"/>
<line x1="538.80" y1="756.60" x2="538.80" y2="759.20" stroke="#111" stroke-width="1.1"/>
<text id="t125" x="535.60" y="772.16" font-size="10.82" font-weight="bold" fill="#111">6</text>
<rect x="533.70" y="736.50" width="10.20" height="20.10" fill="#000"/>
<line x1="538.80" y1="733.20" x2="538.80" y2="736.50" stroke="#111" stroke-width="1.2"/>
<line x1="536.20" y1="733.70" x2="541.40" y2="733.70" stroke="#111" stroke-width="1.2"/>
<line x1="554.72" y1="756.60" x2="554.72" y2="759.20" stroke="#111" stroke-width="1.1"/>
<text id="t126" x="551.58" y="771.60" font-size="11.30" font-weight="bold" fill="#111">7</text>
<rect x="549.62" y="746.30" width="10.20" height="10.30" fill="#000"/>
<line x1="554.72" y1="745.00" x2="554.72" y2="746.30" stroke="#111" stroke-width="1.2"/>
<line x1="552.12" y1="745.50" x2="557.32" y2="745.50" stroke="#111" stroke-width="1.2"/>
<line x1="570.64" y1="756.60" x2="570.64" y2="759.20" stroke="#111" stroke-width="1.1"/>
<text id="t127" x="567.59" y="771.49" font-size="10.99" font-weight="bold" fill="#111">8</text>
<rect x="565.54" y="746.30" width="10.20" height="10.30" fill="#000"/>
<line x1="570.64" y1="743.90" x2="570.64" y2="746.30" stroke="#111" stroke-width="1.2"/>
<line x1="568.04" y1="744.40" x2="573.24" y2="744.40" stroke="#111" stroke-width="1.2"/>
<line x1="586.56" y1="756.60" x2="586.56" y2="759.20" stroke="#111" stroke-width="1.1"/>
<text id="t128" x="583.62" y="772.16" font-size="10.82" font-weight="bold" fill="#111">9</text>
<rect x="581.46" y="749.60" width="10.20" height="7.00" fill="#000"/>
<line x1="586.56" y1="748.30" x2="586.56" y2="749.60" stroke="#111" stroke-width="1.2"/>
<line x1="583.96" y1="748.80" x2="589.16" y2="748.80" stroke="#111" stroke-width="1.2"/>
<line x1="602.48" y1="756.60" x2="602.48" y2="759.20" stroke="#111" stroke-width="1.1"/>
<text id="t129" x="596.35" y="772.16" font-size="10.82" font-weight="bold" fill="#111">10</text>
<rect x="597.38" y="751.20" width="10.20" height="5.40" fill="#000"/>
<line x1="602.48" y1="750.50" x2="602.48" y2="751.20" stroke="#111" stroke-width="1.2"/>
<line x1="599.88" y1="751.00" x2="605.08" y2="751.00" stroke="#111" stroke-width="1.2"/>
<line x1="618.40" y1="756.60" x2="618.40" y2="759.20" stroke="#111" stroke-width="1.1"/>
<text id="t130" x="612.24" y="771.60" font-size="11.30" font-weight="bold" fill="#111">11</text>
<rect x="613.30" y="752.90" width="10.20" height="3.70" fill="#000"/>
<line x1="618.40" y1="752.30" x2="618.40" y2="752.90" stroke="#111" stroke-width="1.2"/>
<line x1="615.80" y1="752.80" x2="621.00" y2="752.80" stroke="#111" stroke-width="1.2"/>
<line x1="634.32" y1="756.60" x2="634.32" y2="759.20" stroke="#111" stroke-width="1.1"/>
<text id="t131" x="628.02" y="771.60" font-size="11.14" font-weight="bold" fill="#111">12</text>
<rect x="629.22" y="754.40" width="10.20" height="2.20" fill="#000"/>
<line x1="634.32" y1="754.00" x2="634.32" y2="754.40" stroke="#111" stroke-width="1.2"/>
<line x1="631.72" y1="754.50" x2="636.92" y2="754.50" stroke="#111" stroke-width="1.2"/>
<line x1="650.24" y1="756.60" x2="650.24" y2="759.20" stroke="#111" stroke-width="1.1"/>
<text id="t132" x="644.67" y="771.84" font-size="10.66" font-weight="bold" fill="#111">13</text>
<rect x="645.14" y="755.50" width="10.20" height="1.10" fill="#000"/>
<line x1="650.24" y1="754.90" x2="650.24" y2="755.50" stroke="#111" stroke-width="1.2"/>
<line x1="647.64" y1="755.40" x2="652.84" y2="755.40" stroke="#111" stroke-width="1.2"/>
<text id="t133" x="528.24" y="787.78" font-size="11.56" font-weight="bold" fill="#111" textLength="52.64" lengthAdjust="spacingAndGlyphs">Fractions</text>
<text id="t134" transform="translate(401.59,741.06) rotate(-90)" font-size="11.43" font-weight="bold" fill="#111" textLength="79.93" lengthAdjust="spacingAndGlyphs">Distribution of</text>
<text id="t135" transform="translate(415.07,740.27) rotate(-90)" font-size="12.68" font-weight="bold" fill="#111" textLength="71.87" lengthAdjust="spacingAndGlyphs">MALNC RNA</text>
<text id="t136" transform="translate(426.14,746.92) rotate(-90)" font-size="8.88" font-weight="normal" fill="#333" textLength="92.59" lengthAdjust="spacingAndGlyphs">(% of total detected)</text>
<text id="t137" x="1.02" y="330.68" font-size="13.83" font-weight="bold" fill="#231f20" textLength="10.28" lengthAdjust="spacingAndGlyphs">C</text>
<line x1="83.80" y1="369.00" x2="83.80" y2="485.30" stroke="#231f20" stroke-width="2.0"/>
<line x1="82.80" y1="484.20" x2="340.80" y2="484.20" stroke="#231f20" stroke-width="2.0"/>
<line x1="80.30" y1="369.50" x2="83.80" y2="369.50" stroke="#231f20" stroke-width="1.6"/>
<text id="t138" x="46.74" y="374.31" font-size="13.94" font-weight="bold" fill="#231f20" textLength="32.25" lengthAdjust="spacingAndGlyphs">0.20</text>
<line x1="80.30" y1="398.20" x2="83.80" y2="398.20" stroke="#231f20" stroke-width="1.6"/>
<text id="t139" x="46.74" y="403.01" font-size="13.94" font-weight="bold" fill="#231f20" textLength="31.99" lengthAdjust="spacingAndGlyphs">0.15</text>
<line x1="80.30" y1="426.80" x2="83.80" y2="426.80" stroke="#231f20" stroke-width="1.6"/>
<text id="t140" x="46.74" y="431.61" font-size="13.94" font-weight="bold" fill="#231f20" textLength="32.25" lengthAdjust="spacingAndGlyphs">0.10</text>
<line x1="80.30" y1="455.50" x2="83.80" y2="455.50" stroke="#231f20" stroke-width="1.6"/>
<text id="t141" x="46.74" y="460.31" font-size="13.94" font-weight="bold" fill="#231f20" textLength="31.99" lengthAdjust="spacingAndGlyphs">0.05</text>
<line x1="80.30" y1="484.20" x2="83.80" y2="484.20" stroke="#231f20" stroke-width="1.6"/>
<text id="t142" x="46.74" y="489.01" font-size="13.94" font-weight="bold" fill="#231f20" textLength="32.25" lengthAdjust="spacingAndGlyphs">0.00</text>
<line x1="95.00" y1="485.00" x2="95.00" y2="489.00" stroke="#231f20" stroke-width="1.5"/>
<text transform="translate(99.52,501.42) rotate(-47)" font-size="12.50" font-weight="bold" fill="#231f20" text-anchor="end" textLength="52.90" lengthAdjust="spacingAndGlyphs">adipose</text>
<line x1="110.60" y1="485.00" x2="110.60" y2="489.00" stroke="#231f20" stroke-width="1.5"/>
<text transform="translate(115.12,501.42) rotate(-47)" font-size="12.50" font-weight="bold" fill="#231f20" text-anchor="end" textLength="49.80" lengthAdjust="spacingAndGlyphs">adrenal</text>
<line x1="126.20" y1="485.00" x2="126.20" y2="489.00" stroke="#231f20" stroke-width="1.5"/>
<text transform="translate(130.72,501.42) rotate(-47)" font-size="12.50" font-weight="bold" fill="#231f20" text-anchor="end" textLength="34.23" lengthAdjust="spacingAndGlyphs">brain</text>
<line x1="141.80" y1="485.00" x2="141.80" y2="489.00" stroke="#231f20" stroke-width="1.5"/>
<text transform="translate(146.32,501.42) rotate(-47)" font-size="12.50" font-weight="bold" fill="#231f20" text-anchor="end" textLength="42.02" lengthAdjust="spacingAndGlyphs">breast</text>
<line x1="157.40" y1="485.00" x2="157.40" y2="489.00" stroke="#231f20" stroke-width="1.5"/>
<text transform="translate(161.92,501.42) rotate(-47)" font-size="12.50" font-weight="bold" fill="#231f20" text-anchor="end" textLength="37.33" lengthAdjust="spacingAndGlyphs">colon</text>
<line x1="173.00" y1="485.00" x2="173.00" y2="489.00" stroke="#231f20" stroke-width="1.5"/>
<text transform="translate(177.52,501.42) rotate(-47)" font-size="12.50" font-weight="bold" fill="#231f20" text-anchor="end" textLength="34.24" lengthAdjust="spacingAndGlyphs">heart</text>
<line x1="188.60" y1="485.00" x2="188.60" y2="489.00" stroke="#231f20" stroke-width="1.5"/>
<text transform="translate(193.12,501.42) rotate(-47)" font-size="12.50" font-weight="bold" fill="#231f20" text-anchor="end" textLength="44.35" lengthAdjust="spacingAndGlyphs">kidney</text>
<line x1="204.20" y1="485.00" x2="204.20" y2="489.00" stroke="#231f20" stroke-width="1.5"/>
<text transform="translate(208.72,501.42) rotate(-47)" font-size="12.50" font-weight="bold" fill="#231f20" text-anchor="end" textLength="28.80" lengthAdjust="spacingAndGlyphs">liver</text>
<line x1="219.80" y1="485.00" x2="219.80" y2="489.00" stroke="#231f20" stroke-width="1.5"/>
<text transform="translate(224.32,501.42) rotate(-47)" font-size="12.50" font-weight="bold" fill="#231f20" text-anchor="end" textLength="29.55" lengthAdjust="spacingAndGlyphs">lung</text>
<line x1="235.40" y1="485.00" x2="235.40" y2="489.00" stroke="#231f20" stroke-width="1.5"/>
<text transform="translate(239.92,501.42) rotate(-47)" font-size="12.50" font-weight="bold" fill="#231f20" text-anchor="end" textLength="78.56" lengthAdjust="spacingAndGlyphs">lymph node</text>
<line x1="251.00" y1="485.00" x2="251.00" y2="489.00" stroke="#231f20" stroke-width="1.5"/>
<text transform="translate(255.52,501.42) rotate(-47)" font-size="12.50" font-weight="bold" fill="#231f20" text-anchor="end" textLength="37.36" lengthAdjust="spacingAndGlyphs">ovary</text>
<line x1="266.60" y1="485.00" x2="266.60" y2="489.00" stroke="#231f20" stroke-width="1.5"/>
<text transform="translate(271.12,501.42) rotate(-47)" font-size="12.50" font-weight="bold" fill="#231f20" text-anchor="end" textLength="55.24" lengthAdjust="spacingAndGlyphs">prostate</text>
<line x1="282.20" y1="485.00" x2="282.20" y2="489.00" stroke="#231f20" stroke-width="1.5"/>
<text transform="translate(286.72,501.42) rotate(-47)" font-size="12.50" font-weight="bold" fill="#231f20" text-anchor="end" textLength="103.51" lengthAdjust="spacingAndGlyphs">skeletal muscle</text>
<line x1="297.80" y1="485.00" x2="297.80" y2="489.00" stroke="#231f20" stroke-width="1.5"/>
<text transform="translate(302.32,501.42) rotate(-47)" font-size="12.50" font-weight="bold" fill="#231f20" text-anchor="end" textLength="47.44" lengthAdjust="spacingAndGlyphs">thyroid</text>
<line x1="313.40" y1="485.00" x2="313.40" y2="489.00" stroke="#231f20" stroke-width="1.5"/>
<text transform="translate(317.92,501.42) rotate(-47)" font-size="12.50" font-weight="bold" fill="#231f20" text-anchor="end" textLength="40.47" lengthAdjust="spacingAndGlyphs">testes</text>
<line x1="329.00" y1="485.00" x2="329.00" y2="489.00" stroke="#231f20" stroke-width="1.5"/>
<text transform="translate(333.52,501.42) rotate(-47)" font-size="12.50" font-weight="bold" fill="#231f20" text-anchor="end" textLength="112.79" lengthAdjust="spacingAndGlyphs">white blood cells</text>
<rect x="308.50" y="457.20" width="11.00" height="27.00" fill="#231f20"/>
<rect x="324.00" y="369.90" width="11.40" height="114.30" fill="#231f20"/>
<text id="t143" transform="translate(21.78,492.03) rotate(-90)" font-size="21.69" font-weight="bold" fill="#231f20" textLength="135.14" lengthAdjust="spacingAndGlyphs">LOC105370601</text>
<text id="t144" transform="translate(38.69,457.54) rotate(-90)" font-size="15.29" font-weight="bold" fill="#231f20" textLength="67.90" lengthAdjust="spacingAndGlyphs">(RPKM)</text>
<text id="t145" x="145.62" y="586.12" font-size="17.55" font-weight="bold" fill="#231f20" textLength="58.03" lengthAdjust="spacingAndGlyphs">Tissue</text>
<text id="t146" x="-0.98" y="629.00" font-size="13.48" font-weight="bold" fill="#231f20" textLength="10.92" lengthAdjust="spacingAndGlyphs">D</text>
<rect x="101.20" y="689.40" width="34.00" height="69.50" fill="#e0bdbe"/>
<rect x="101.20" y="758.90" width="34.00" height="54.10" fill="#000"/>
<line x1="118.20" y1="683.30" x2="118.20" y2="689.40" stroke="#e0bdbe" stroke-width="1.3"/>
<line x1="109.10" y1="683.30" x2="127.30" y2="683.30" stroke="#e0bdbe" stroke-width="1.1"/>
<line x1="118.20" y1="752.40" x2="118.20" y2="758.90" stroke="#2a2a2a" stroke-width="1.6"/>
<line x1="109.30" y1="752.40" x2="127.10" y2="752.40" stroke="#2a2a2a" stroke-width="1.5"/>
<rect x="152.50" y="689.40" width="34.30" height="100.50" fill="#e0bdbe"/>
<rect x="152.50" y="789.90" width="34.30" height="23.10" fill="#000"/>
<line x1="169.65" y1="683.30" x2="169.65" y2="689.40" stroke="#e0bdbe" stroke-width="1.3"/>
<line x1="160.55" y1="683.30" x2="178.75" y2="683.30" stroke="#e0bdbe" stroke-width="1.1"/>
<line x1="169.65" y1="784.20" x2="169.65" y2="789.90" stroke="#2a2a2a" stroke-width="1.6"/>
<line x1="160.75" y1="784.20" x2="178.55" y2="784.20" stroke="#2a2a2a" stroke-width="1.5"/>
<rect x="204.20" y="689.40" width="34.20" height="35.20" fill="#e0bdbe"/>
<rect x="204.20" y="724.60" width="34.20" height="88.40" fill="#000"/>
<line x1="221.30" y1="683.30" x2="221.30" y2="689.40" stroke="#e0bdbe" stroke-width="1.3"/>
<line x1="212.20" y1="683.30" x2="230.40" y2="683.30" stroke="#e0bdbe" stroke-width="1.1"/>
<line x1="221.30" y1="718.40" x2="221.30" y2="724.60" stroke="#2a2a2a" stroke-width="1.6"/>
<line x1="212.40" y1="718.40" x2="230.20" y2="718.40" stroke="#2a2a2a" stroke-width="1.5"/>
<line x1="84.00" y1="665.00" x2="84.00" y2="813.80" stroke="#000" stroke-width="1.5"/>
<line x1="83.30" y1="813.00" x2="256.00" y2="813.00" stroke="#000" stroke-width="1.8"/>
<line x1="80.50" y1="689.00" x2="84.00" y2="689.00" stroke="#000" stroke-width="1.4"/>
<text id="t147" x="55.89" y="693.66" font-size="13.52" font-weight="bold" fill="#000" textLength="22.39" lengthAdjust="spacingAndGlyphs">100</text>
<line x1="80.50" y1="720.10" x2="84.00" y2="720.10" stroke="#000" stroke-width="1.4"/>
<text id="t148" x="63.06" y="724.76" font-size="13.71" font-weight="bold" fill="#000" textLength="15.01" lengthAdjust="spacingAndGlyphs">75</text>
<line x1="80.50" y1="751.20" x2="84.00" y2="751.20" stroke="#000" stroke-width="1.4"/>
<text id="t149" x="63.19" y="755.86" font-size="13.52" font-weight="bold" fill="#000" textLength="15.08" lengthAdjust="spacingAndGlyphs">50</text>
<line x1="80.50" y1="781.70" x2="84.00" y2="781.70" stroke="#000" stroke-width="1.4"/>
<text id="t150" x="63.13" y="786.36" font-size="13.52" font-weight="bold" fill="#000" textLength="14.94" lengthAdjust="spacingAndGlyphs">25</text>
<line x1="80.50" y1="812.10" x2="84.00" y2="812.10" stroke="#000" stroke-width="1.4"/>
<text id="t151" x="70.54" y="816.76" font-size="13.52" font-weight="bold" fill="#000" textLength="7.73" lengthAdjust="spacingAndGlyphs">0</text>
<line x1="117.80" y1="813.80" x2="117.80" y2="818.20" stroke="#000" stroke-width="1.5"/>
<text transform="translate(120.56,828.11) rotate(-45)" font-size="13.00" font-weight="bold" fill="#000" text-anchor="end">MALNC</text>
<line x1="169.40" y1="813.80" x2="169.40" y2="818.20" stroke="#000" stroke-width="1.5"/>
<text transform="translate(172.16,828.11) rotate(-45)" font-size="13.00" font-weight="bold" fill="#000" text-anchor="end">U6</text>
<line x1="221.00" y1="813.80" x2="221.00" y2="818.20" stroke="#000" stroke-width="1.5"/>
<text transform="translate(223.76,828.11) rotate(-45)" font-size="13.00" font-weight="bold" fill="#000" text-anchor="end">β-actin</text>
<text id="t152" transform="translate(48.77,784.27) rotate(-90)" font-size="13.48" font-weight="bold" fill="#000" textLength="97.04" lengthAdjust="spacingAndGlyphs">Percentage (%)</text>
<rect x="266.10" y="717.60" width="11.90" height="13.30" fill="#000"/>
<rect x="266.10" y="734.40" width="11.90" height="13.20" fill="#e0bdbe"/>
<text id="t153" x="283.26" y="729.20" font-size="12.47" font-weight="bold" fill="#000" textLength="68.65" lengthAdjust="spacingAndGlyphs">Cytoplasm</text>
<text id="t154" x="283.33" y="745.18" font-size="12.38" font-weight="bold" fill="#000" textLength="52.21" lengthAdjust="spacingAndGlyphs">Nucleus</text>
</svg>
</body></html>
